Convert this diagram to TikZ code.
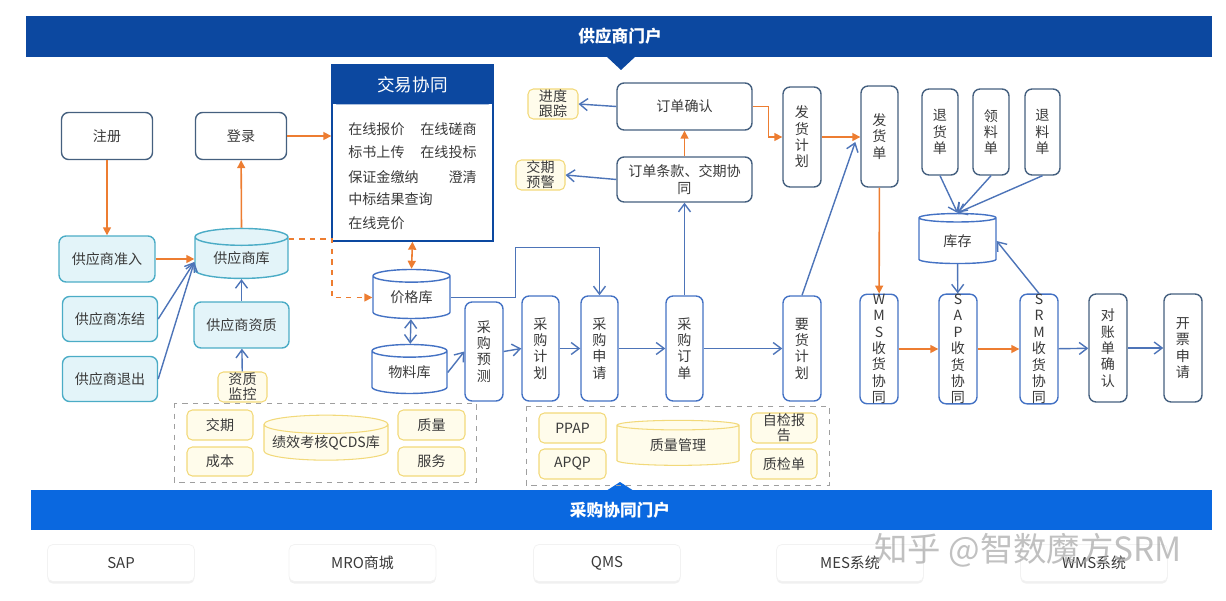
\documentclass[tikz,border=0pt]{standalone}
\usepackage{fontspec}
\setmainfont{Noto Sans CJK SC}
\usetikzlibrary{arrows.meta,positioning,shapes.geometric,shadows}
\definecolor{navy}{HTML}{0C48A0}
\definecolor{portal}{HTML}{0A68E0}
\definecolor{slate}{HTML}{45607F}
\definecolor{procblue}{HTML}{4472C4}
\definecolor{lineblue}{HTML}{4D74B8}
\definecolor{orng}{HTML}{ED7D31}
\definecolor{tealline}{HTML}{4BACC6}
\definecolor{tealfill}{HTML}{E3F4F9}
\definecolor{yline}{HTML}{F2D97A}
\definecolor{yfill}{HTML}{FFFCEB}
\definecolor{txt}{HTML}{3A3A3A}

\begin{document}
\begin{tikzpicture}[x=0.02cm,y=-0.02cm,
  box/.style={draw=slate,line width=0.8pt,rounded corners=4pt,fill=white,
              text=txt,font=\fontsize{8}{10}\selectfont,inner sep=0pt,align=center},
  vbox/.style={box,font=\fontsize{8}{9.3}\selectfont},
  pbox/.style={vbox,draw=procblue},
  tbox/.style={box,draw=tealline,fill=tealfill},
  tag/.style={box,draw=yline,fill=yfill,line width=0.6pt,rounded corners=3pt,
              font=\fontsize{8}{8.6}\selectfont},
  db/.style={cylinder,shape border rotate=90,aspect=0.3,draw=procblue,
             line width=0.8pt,fill=white,text=txt,inner sep=0pt,
             font=\fontsize{8}{10}\selectfont},
  ydb/.style={db,aspect=0.17,draw=yline,fill=yfill,line width=0.6pt},
  item/.style={text=txt,font=\fontsize{8}{10}\selectfont,inner sep=0pt},
  sysbox/.style={fill=white,draw=gray!10,rounded corners=3pt,text=txt,
                 font=\fontsize{8.5}{10}\selectfont,minimum width=2.94cm,minimum height=0.74cm,
                 drop shadow={shadow xshift=0pt,shadow yshift=-1.2pt,opacity=0.12}},
  barr/.style={draw=lineblue,line width=0.8pt,-{Straight Barb[length=1.6mm,width=2.4mm]}},
  bdbl/.style={draw=lineblue,line width=0.8pt,{Straight Barb[length=1.6mm,width=2.4mm]}-{Straight Barb[length=1.6mm,width=2.4mm]}},
  oarr/.style={draw=orng,line width=0.9pt,-{Triangle[length=1.6mm,width=1.6mm]}},
  odbl/.style={draw=orng,line width=0.9pt,{Triangle[length=1.6mm,width=1.6mm]}-{Triangle[length=1.6mm,width=1.6mm]}},
  grp/.style={draw=gray!75,dashed,line width=0.5pt}
]
\useasboundingbox (0,0) rectangle (1226,601);

% ---- Portal banners -----------------------------------------
\fill[navy] (26,16) rectangle (1212,57);
\fill[navy] (606,56) -- (636,56) -- (621,70) -- cycle;
\node[text=white,font=\fontsize{9.5}{11}\selectfont\bfseries] (supp) at (620,36) {供应商门户};
\fill[portal] (31,490) rectangle (1212,530);
\fill[portal] (606,491) -- (634,491) -- (620,482) -- cycle;
\node[text=white,font=\fontsize{9.5}{11}\selectfont\bfseries] (purch) at (620,510) {采购协同门户};

% ---- Supplier lifecycle -------------------------------------
\node[box,minimum width=1.82cm,minimum height=0.94cm] (reg)   at (107,136) {注册};
\node[box,minimum width=1.82cm,minimum height=0.94cm] (login) at (241,136) {登录};
\node[tbox,minimum width=1.92cm,minimum height=0.92cm] (admit) at (107,259) {供应商准入};
\node[tbox,minimum width=1.9cm,minimum height=0.9cm]   (frz)   at (110,319) {供应商冻结};
\node[tbox,minimum width=1.9cm,minimum height=0.9cm]   (quit)  at (110,379) {供应商退出};
\node[db,draw=tealline,fill=tealfill,minimum width=1.86cm,minimum height=1cm] (sdb) at (241.5,258) {供应商库};
\node[tbox,minimum width=1.9cm,minimum height=0.92cm]  (qual)  at (241.5,325) {供应商资质};
\node[tag,minimum width=0.98cm,minimum height=0.6cm]   (qmon)  at (242.5,387) {资质\\监控};

% ---- Transaction box ----------------------------------------
\node[draw=navy,line width=0.8pt,fill=white,minimum width=3.22cm,minimum height=3.52cm,inner sep=0pt] (trade) at (412.5,153) {};
\fill[navy,rounded corners=3pt] (trade.north west) rectangle ([yshift=-0.8cm]trade.north east);
\fill[navy] ([yshift=-0.5cm]trade.north west) rectangle ([yshift=-0.8cm]trade.north east);
\node[text=white,font=\fontsize{10}{12}\selectfont] (tradehd) at (412.5,85) {交易协同};
\node[item,anchor=west] (bidq)  at (348,129) {在线报价};
\node[item,anchor=east] (nego)  at (477,129) {在线磋商};
\node[item,anchor=west] (upl)   at (348,152) {标书上传};
\node[item,anchor=east] (tend)  at (477,152) {在线投标};
\node[item,anchor=west] (dep)   at (348,177) {保证金缴纳};
\node[item,anchor=east] (clar)  at (477,177) {澄清};
\node[item,anchor=west] (award) at (348,199) {中标结果查询};
\node[item,anchor=west] (auct)  at (348,223) {在线竞价};

% ---- Price / material ---------------------------------------
\node[db,minimum width=1.54cm,minimum height=0.98cm] (price) at (411.5,297.5) {价格库};
\node[db,minimum width=1.5cm,minimum height=0.98cm]  (mat)   at (409.5,372.5) {物料库};

% ---- Purchasing chain ---------------------------------------
\node[pbox,minimum width=0.76cm,minimum height=1.98cm] (fc)   at (484,351.5) {采\\购\\预\\测};
\node[pbox,minimum width=0.74cm,minimum height=2.1cm]  (plan) at (540.5,348.5) {采\\购\\计\\划};
\node[pbox,minimum width=0.74cm,minimum height=2.1cm]  (req)  at (599.5,348.5) {采\\购\\申\\请};
\node[pbox,minimum width=0.74cm,minimum height=2.1cm]  (po)   at (684.5,348.5) {采\\购\\订\\单};
\node[pbox,minimum width=0.76cm,minimum height=2.1cm]  (dp)   at (802,348.5) {要\\货\\计\\划};

% ---- Order collaboration ------------------------------------
\node[box,minimum width=2.7cm,minimum height=0.94cm] (ocf)   at (684.5,106.5) {订单确认};
\node[box,minimum width=2.7cm,minimum height=0.9cm]  (terms) at (684.5,179.5) {订单条款、交期协\\同};
\node[tag,minimum width=1cm,minimum height=0.6cm]    (track) at (553,104) {进度\\跟踪};
\node[tag,minimum width=0.98cm,minimum height=0.6cm] (warn)  at (540.5,175) {交期\\预警};
\node[vbox,minimum width=0.76cm,minimum height=2cm]  (shipplan) at (802,137) {发\\货\\计\\划};
\node[vbox,minimum width=0.74cm,minimum height=2.02cm] (ship) at (879.5,136.5) {发\\货\\单};

% ---- Warehouse ----------------------------------------------
\node[vbox,minimum width=0.72cm,minimum height=1.72cm] (ret)  at (940,132) {退\\货\\单};
\node[vbox,minimum width=0.72cm,minimum height=1.72cm] (pick) at (991,132) {领\\料\\单};
\node[vbox,minimum width=0.7cm,minimum height=1.72cm]  (back) at (1042.5,132) {退\\料\\单};
\node[db,minimum width=1.54cm,minimum height=1cm] (stock) at (957.5,241) {库存};

% ---- Receiving / settlement ---------------------------------
\node[pbox,minimum width=0.76cm,minimum height=2.12cm] (wms) at (879,349) {W\\M\\S\\收\\货\\协\\同};
\node[pbox,minimum width=0.76cm,minimum height=2.12cm] (sap) at (958,349) {S\\A\\P\\收\\货\\协\\同};
\node[pbox,minimum width=0.76cm,minimum height=2.12cm] (srm) at (1039,349) {S\\R\\M\\收\\货\\协\\同};
\node[vbox,minimum width=0.76cm,minimum height=2.16cm] (recon) at (1108,348) {对\\账\\单\\确\\认};
\node[vbox,minimum width=0.76cm,minimum height=2.16cm] (inv)   at (1183,348) {开\\票\\申\\请};

% ---- QCDS group ---------------------------------------------
\draw[grp] (174,403) rectangle (476,482);
\node[tag,minimum width=1.32cm,minimum height=0.6cm]  (lead) at (220,425) {交期};
\node[tag,minimum width=1.32cm,minimum height=0.58cm] (cost) at (220,461.5) {成本};
\node[ydb,minimum width=2.48cm,minimum height=0.9cm]   (qcds) at (326,442.5) {绩效考核QCDS库};
\node[tag,minimum width=1.34cm,minimum height=0.6cm]  (qlty) at (431.5,425) {质量};
\node[tag,minimum width=1.34cm,minimum height=0.58cm] (serv) at (431.5,461.5) {服务};

% ---- Quality group ------------------------------------------
\draw[grp] (526,406) rectangle (829,485);
\node[tag,minimum width=1.34cm,minimum height=0.6cm] (ppap) at (572.5,428) {PPAP};
\node[tag,minimum width=1.34cm,minimum height=0.6cm] (apqp) at (572.5,464) {APQP};
\node[ydb,minimum width=2.44cm,minimum height=0.9cm]  (qm)   at (678,445.5) {质量管理};
\node[tag,minimum width=1.32cm,minimum height=0.6cm] (self) at (784,428) {自检报\\告};
\node[tag,minimum width=1.32cm,minimum height=0.6cm] (qcs)  at (784,464) {质检单};

% ---- Systems ------------------------------------------------
\node[sysbox] (s1) at (121,563) {SAP};
\node[sysbox] (s2) at (362.5,563) {MRO商城};
\node[sysbox] (s3) at (607,563) {QMS};
\node[sysbox] (s4) at (850,563) {MES系统};
\node[sysbox] (s5) at (1094,563) {WMS系统};
\node[text=gray!70,opacity=0.7,font=\fontsize{19}{21}\selectfont] (wm) at (1028,550) {知乎 @智数魔方SRM};

% ---- Orange flow --------------------------------------------
\draw[oarr] (reg) -- (admit);
\draw[oarr] (admit) -- (admit -| sdb.west);
\draw[oarr] (sdb.north) -- (login);
\draw[oarr] (login) -- (login -| trade.west);
\draw[odbl] (trade.south) -- (price.north);
\draw[orng,dashed,line width=0.9pt,-{Triangle[length=1.6mm,width=1.6mm]}]
  ([yshift=0.38cm]sdb.east) -- ++(43,0) |- (price.west);
\draw[oarr] (terms) -- (ocf);
\draw[oarr] (ocf.east) -- ++(16,0) |- (shipplan.west);
\draw[oarr] (shipplan.east) -- (shipplan.east -| ship.west);
\draw[oarr] (ship) -- (wms);
\draw[oarr] (wms) -- (sap);
\draw[oarr] (sap) -- (srm);

% ---- Blue flow ----------------------------------------------
\draw[barr] (frz.east) -- ([yshift=-0.08cm]sdb.west);
\draw[barr] (quit.east) -- ([yshift=-0.08cm]sdb.west);
\draw[barr] (qual) -- (sdb);
\draw[barr] (qmon) -- (qual);
\draw[bdbl] (price) -- (mat);
\draw[barr] (mat.east) -- (fc.west);
\draw[barr] (fc.east) -- (plan.west);
\draw[barr] (plan) -- (req);
\draw[barr] (req) -- (po);
\draw[barr] (po) -- (dp);
\draw[barr] (price.east) -- ++(65,0) |- ([yshift=0.96cm]req.north) -- (req.north);
\draw[barr] (po) -- (terms);
\draw[barr] (terms.west) -- (warn.east);
\draw[barr] (ocf.west) -- (track.east);
\draw[barr] (dp.north) -- ([xshift=-0.1cm,yshift=-0.11cm]ship.west);
\draw[barr] (ret.south) -- (stock.north);
\draw[barr] (pick.south) -- (stock.north);
\draw[barr] (back.south) -- (stock.north);
\draw[barr] (stock) -- (sap);
\draw[barr] (srm.north) -- (stock.east);
\draw[barr] (srm) -- (recon);
\draw[barr] (recon) -- (inv);

\end{tikzpicture}
\end{document}
